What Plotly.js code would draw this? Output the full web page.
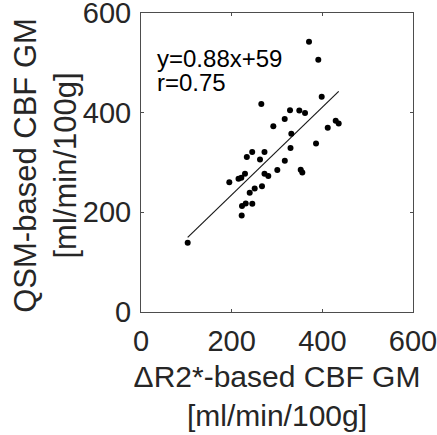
<!DOCTYPE html>
<html>
<head>
<meta charset="utf-8">
<script src="https://cdn.plot.ly/plotly-3.0.1.min.js"></script>
<style>html,body{margin:0;padding:0;background:#fff;}#chart{width:437px;height:435px;}</style>
</head>
<body>
<div id="chart"></div>
<script>
// ΔR2*-based CBF GM [ml/min/100g]
const dr2Cbf = [370.6, 391.1, 398.6, 265.4, 328.7, 349.2, 361.8, 317.0, 291.9, 429.5,
                436.1, 411.9, 331.6, 386.1, 329.8, 233.4, 245.3, 272.4, 262.5, 317.2,
                300.7, 352.3, 355.8, 194.8, 215.1, 221.3, 229.4, 272.4, 280.8, 239.8,
                250.8, 266.9, 222.8, 231.0, 245.5, 222.1, 103.0];
// QSM-based CBF GM [ml/min/100g]
const qsmCbf = [542.2, 506.1, 432.0, 417.4, 405.0, 404.4, 399.4, 387.3, 372.5, 383.9,
                378.3, 369.9, 357.9, 337.9, 328.9, 310.8, 321.2, 320.9, 305.8, 303.4,
                284.8, 285.4, 279.8, 260.4, 267.4, 269.2, 277.4, 277.4, 272.8, 239.1,
                247.7, 252.2, 212.7, 217.7, 217.3, 193.7, 139.0];
// reported linear fit
const fitSlope = 0.88;
const fitIntercept = 59;
const fitLabel = "y=0.88x+59";
const corrLabel = "r=0.75";
const xTitle = "ΔR2*-based CBF GM<br>[ml/min/100g]";
const yTitle = "QSM-based CBF GM<br>[ml/min/100g]";
const tickVals = [0, 200, 400, 600];
const tickText = ["0", "200", "400", "600"];

const fitX = [Math.min(...dr2Cbf), Math.max(...dr2Cbf)];
const fitY = fitX.map(v => fitSlope * v + fitIntercept);

const textColor = '#262626';
const fontFam = 'Liberation Sans, Arial, sans-serif';

const traces = [
  {x: fitX, y: fitY, mode: 'lines', type: 'scatter',
   line: {color: '#1a1a1a', width: 1.2}, hoverinfo: 'skip', showlegend: false},
  {x: dr2Cbf, y: qsmCbf, mode: 'markers', type: 'scatter',
   marker: {color: '#000', size: 6}, showlegend: false}
];

const axisCommon = {
  range: [0, 600], tickvals: tickVals, ticktext: tickText,
  ticks: 'inside', ticklen: 3, tickwidth: 1, tickcolor: '#4d4d4d',
  showline: true, linecolor: '#4d4d4d', linewidth: 1, mirror: 'ticks',
  showgrid: false, zeroline: false, ticklabeloverflow: 'allow',
  tickfont: {family: fontFam, size: 29, color: textColor}
};

const layout = {
  width: 437, height: 435,
  margin: {l: 141, r: 24, t: 13, b: 123},
  paper_bgcolor: '#fff', plot_bgcolor: '#fff',
  font: {family: fontFam, color: textColor},
  xaxis: Object.assign({}, axisCommon, {
    ticklabelstandoff: 3,
    title: {text: xTitle, font: {family: fontFam, size: 30, color: textColor}, standoff: 10}
  }),
  yaxis: Object.assign({}, axisCommon, {
    ticklabelstandoff: 3
  }),
  annotations: [
    {x: 30, y: 508, xref: 'x', yref: 'y', text: fitLabel, showarrow: false,
     xanchor: 'left', yanchor: 'middle', font: {family: fontFam, size: 24, color: '#000'}},
    {x: 30, y: 461, xref: 'x', yref: 'y', text: corrLabel, showarrow: false,
     xanchor: 'left', yanchor: 'middle', font: {family: fontFam, size: 24, color: '#000'}},
    {x: -0.352, y: 0.49, xref: 'paper', yref: 'paper', text: yTitle, showarrow: false,
     textangle: -90, xanchor: 'center', yanchor: 'middle',
     font: {family: fontFam, size: 31, color: textColor}}
  ],
  showlegend: false
};

Plotly.newPlot('chart', traces, layout, {displayModeBar: false, staticPlot: true});
</script>
</body>
</html>
